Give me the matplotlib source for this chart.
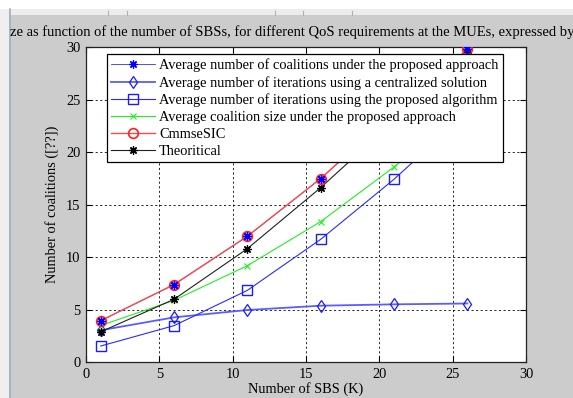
import matplotlib
matplotlib.use("Agg")
import matplotlib.pyplot as plt
from matplotlib.patches import Rectangle
from matplotlib.lines import Line2D

plt.rcParams['font.family'] = ['Liberation Serif', 'DejaVu Serif']

# Number of small base stations
sbs = [1, 6, 11, 16, 21, 26]

coalitions = [3.96, 7.4, 12.0, 17.5, 23.8, 29.8]
iter_central = [3.05, 4.28, 4.98, 5.39, 5.52, 5.6]
iter_proposed = [1.55, 3.49, 6.85, 11.71, 17.43, 23.8]
coalition_size = [3.5, 5.9, 9.2, 13.4, 18.6, 24.3]
cmmse_sic = [3.96, 7.4, 12.0, 17.5, 23.8, 29.8]
theoretical = [2.9, 6.0, 10.82, 16.63, 23.0, 29.5]

labels = [
    "Average number of coalitions under the proposed approach",
    "Average number of iterations using a centralized solution",
    "Average number of iterations using the proposed algorithm",
    "Average coalition size under the proposed approach",
    "CmmseSIC",
    "Theoritical",
]
title_text = ("ze as function of the number of SBSs, for different QoS "
              "requirements at the MUEs, expressed by")
xticks = [0, 5, 10, 15, 20, 25, 30]
yticks = [0, 5, 10, 15, 20, 25, 30]

W, H = 573, 398
FS = 10.4
fig = plt.figure(figsize=(W / 100, H / 100), dpi=100, facecolor='#cccccc')

# window chrome: white strip, toolbar band and left border
fig.add_artist(Rectangle((0, 1 - 9 / H), 1, 9 / H, transform=fig.transFigure,
                         facecolor='white', edgecolor='none', zorder=0))
fig.add_artist(Rectangle((10 / W, 1 - 15 / H), 1, 6 / H, transform=fig.transFigure,
                         facecolor='#ececec', edgecolor='none', zorder=0))
fig.add_artist(Rectangle((0, 0), 9 / W, 1 - 9 / H, transform=fig.transFigure,
                         facecolor='#efefef', edgecolor='none', zorder=0))
fig.add_artist(Line2D([9.5 / W, 9.5 / W], [0, 1 - 9 / H], transform=fig.transFigure,
                      color='#9fb0c4', lw=1.2))
for xp in [108, 127, 275, 303, 352]:
    fig.add_artist(Line2D([xp / W, xp / W], [1 - 15 / H, 1 - 11 / H],
                          transform=fig.transFigure, color='#b0b0b0', lw=0.8))

ax = fig.add_axes([86 / W, (H - 362.3) / H, 440 / W, 315 / H])
ax.set_facecolor('white')

ms = 6
asterisk = (8, 2, 0)
ax.plot(sbs, coalitions, color='#3030ff', lw=0.6, marker=asterisk, ms=ms,
        markeredgecolor='#0000ff', mew=0.9, label=labels[0], zorder=3)
ax.plot(sbs, iter_central, color='#5c5cff', lw=1.3, marker='d', ms=ms + 0.5,
        markerfacecolor='none', markeredgecolor='#1a1aff', mew=0.9,
        label=labels[1], zorder=3)
ax.plot(sbs, iter_proposed, color='#2a2aff', lw=0.8, marker='s', ms=ms + 1.5,
        markerfacecolor='none', markeredgecolor='#1a1aff', mew=1.0,
        label=labels[2], zorder=3)
ax.plot(sbs, coalition_size, color='#22ee22', lw=0.8, marker='x', ms=ms - 1.5,
        mew=0.8, label=labels[3], zorder=3)
ax.plot(sbs, cmmse_sic, color='#ff4a4a', lw=1.0, marker='o', ms=ms + 1,
        markerfacecolor='none', markeredgecolor='#ff2020', mew=1.2,
        label=labels[4], zorder=3.5)
ax.plot(sbs, theoretical, color='#202020', lw=0.8, marker=asterisk, ms=ms,
        markeredgecolor='black', mew=0.9, label=labels[5], zorder=3)
# coalition markers sit above the red circles
ax.plot(sbs, coalitions, linestyle='none', marker=asterisk, ms=ms, mew=0.9,
        color='#0000ff', zorder=5)

ax.set_xlim(0, 30)
ax.set_ylim(0, 30)
ax.set_xticks(xticks)
ax.set_yticks(yticks)
ax.tick_params(direction='in', length=4, width=0.8, top=True, right=True,
               labelsize=FS, pad=4, colors='black')
ax.grid(True, color='black', linestyle=(0, (2.5, 3)), linewidth=0.6)
for sp in ax.spines.values():
    sp.set_color('#222222')
    sp.set_linewidth(0.9)

ax.set_xlabel("Number of SBS (K)", fontsize=FS, labelpad=1)
ax.set_ylabel("Number of coalitions ([??])", fontsize=FS, labelpad=5)

leg = ax.legend(loc='upper left', bbox_to_anchor=(107 / W, 1 - 54 / H),
                bbox_transform=fig.transFigure, fontsize=FS, frameon=True,
                fancybox=False, edgecolor='black', framealpha=1,
                handlelength=3.0, handletextpad=0.3, labelspacing=0.26,
                borderpad=0.3, borderaxespad=0)
leg.get_frame().set_linewidth(0.9)

fig.text(10 / W, 1 - 32 / H, title_text, fontsize=FS + 0.1, ha='left', va='center')

fig.savefig("out.png", dpi=100, facecolor=fig.get_facecolor())
